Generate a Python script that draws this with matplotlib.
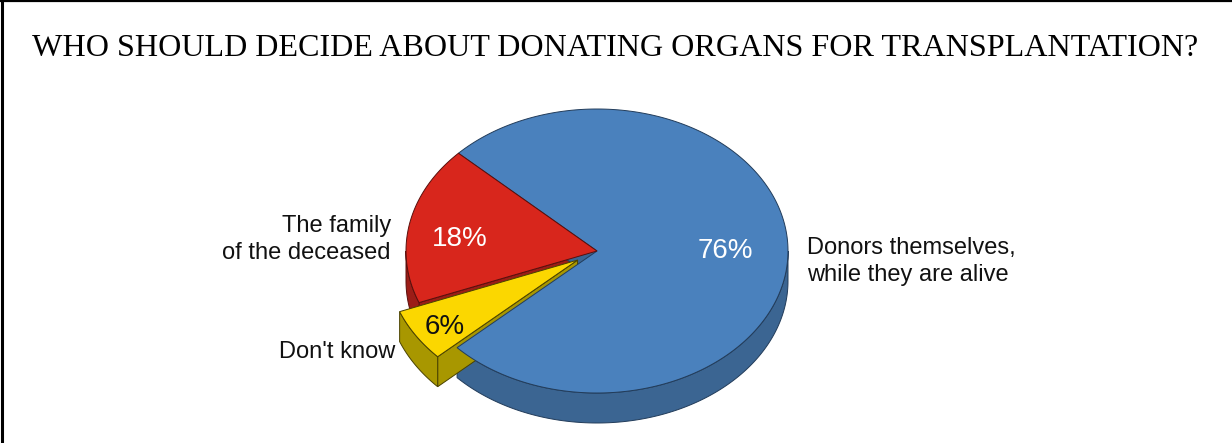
import numpy as np
import matplotlib
matplotlib.use("Agg")
import matplotlib.pyplot as plt
from matplotlib.patches import Polygon
from matplotlib.lines import Line2D

# ---- data ----
title = "WHO SHOULD DECIDE ABOUT DONATING ORGANS FOR TRANSPLANTATION?"
categories = ["The family\nof the deceased", "Don't know", "Donors themselves,\nwhile they are alive"]
values = [18, 6, 76]
pct_labels = ["18%", "6%", "76%"]

# ---- style ----
top_colors = ["#d8261c", "#fbd700", "#4a81bd"]
side_colors = ["#9c1d17", "#a89700", "#3b6592"]
edge_colors = ["#5a0f0c", "#4a4200", "#223c5a"]
pct_colors = ["white", "#111111", "white"]
explode = [0.0, 0.12, 0.0]
label_r = [0.73, 0.82, 0.67]
label_dy = [8, 5, 0]
start_angle = 136.5

cx, cy, rx, ry, depth = 597, 251, 191, 142, 30

fig = plt.figure(figsize=(12.32, 4.43), dpi=100)
ax = fig.add_axes([0, 0, 1, 1])
ax.set_xlim(0, 1232)
ax.set_ylim(443, 0)
ax.axis("off")

fr = np.array(values, float) / np.sum(values)
bounds = start_angle + np.concatenate([[0], np.cumsum(fr) * 360])
slices = []
for i in range(len(values)):
    a, b = bounds[i], bounds[i + 1]
    mid = np.radians((a + b) / 2)
    ox = explode[i] * rx * np.cos(mid)
    oy = -explode[i] * ry * np.sin(mid)
    slices.append((a, b, ox, oy))


def pt(theta_deg, ox, oy, dz=0.0):
    t = np.radians(theta_deg)
    return (cx + ox + rx * np.cos(t), cy + oy - ry * np.sin(t) + dz)


def arc(a, b, ox, oy, dz=0.0):
    ts = np.linspace(a, b, max(int(abs(b - a)) + 2, 4))
    return [pt(t, ox, oy, dz) for t in ts]


def wall(a, b, ox, oy):
    top = arc(a, b, ox, oy)
    bot = arc(a, b, ox, oy, depth)[::-1]
    return top + bot


def radial(theta, ox, oy):
    c = (cx + ox, cy + oy)
    o = pt(theta, ox, oy)
    return [c, o, (o[0], o[1] + depth), (c[0], c[1] + depth)]


def front_intervals(a, b):
    res = []
    for k in range(-1, 3):
        lo, hi = 180 + 360 * k, 360 + 360 * k
        s, e = max(a, lo), min(b, hi)
        if e > s:
            res.append((s, e))
    return res


lw = 0.7
# side faces (back to front)
for i in [0, 2, 1]:
    a, b, ox, oy = slices[i]
    if np.cos(np.radians(b)) < 0:
        ax.add_patch(Polygon(radial(b, ox, oy), closed=True, fc=side_colors[i],
                             ec=edge_colors[i], lw=lw))
    if np.cos(np.radians(a)) > 0:
        ax.add_patch(Polygon(radial(a, ox, oy), closed=True, fc=side_colors[i],
                             ec=edge_colors[i], lw=lw))
    for s, e in front_intervals(a, b):
        ax.add_patch(Polygon(wall(s, e, ox, oy), closed=True, fc=side_colors[i],
                             ec=edge_colors[i], lw=lw))

# top faces
for i in [2, 0, 1]:
    a, b, ox, oy = slices[i]
    poly = [(cx + ox, cy + oy)] + arc(a, b, ox, oy)
    ax.add_patch(Polygon(poly, closed=True, fc=top_colors[i], ec=edge_colors[i], lw=lw))

# percentage labels
for i in range(len(values)):
    a, b, ox, oy = slices[i]
    m = np.radians((a + b) / 2)
    x = cx + ox + label_r[i] * rx * np.cos(m)
    y = cy + oy - label_r[i] * ry * np.sin(m) + label_dy[i]
    ax.text(x, y, pct_labels[i], color=pct_colors[i], fontsize=20,
            family="Liberation Sans", ha="center", va="center")

# category labels
label_pos = [(391, 259, "right"), (395, 358, "right"), (807, 281, "left")]
for i, (x, y, ha) in enumerate(label_pos):
    ax.text(x, y, categories[i], fontsize=17, family="Liberation Sans",
            ha=ha, va="baseline", multialignment=ha, linespacing=1.3, color="#111111")

# title
ax.text(615, 56, title, fontsize=23.1, family="Liberation Serif", ha="center",
        va="baseline", color="black")

# frame (top and left)
fig.add_artist(Line2D([0, 1], [1 - 0.5 / 443, 1 - 0.5 / 443], transform=fig.transFigure,
                      color="black", lw=1.6))
fig.add_artist(Line2D([1.5 / 1232, 1.5 / 1232], [0, 1], transform=fig.transFigure,
                      color="black", lw=2.2))

fig.savefig("out.png", dpi=100)
